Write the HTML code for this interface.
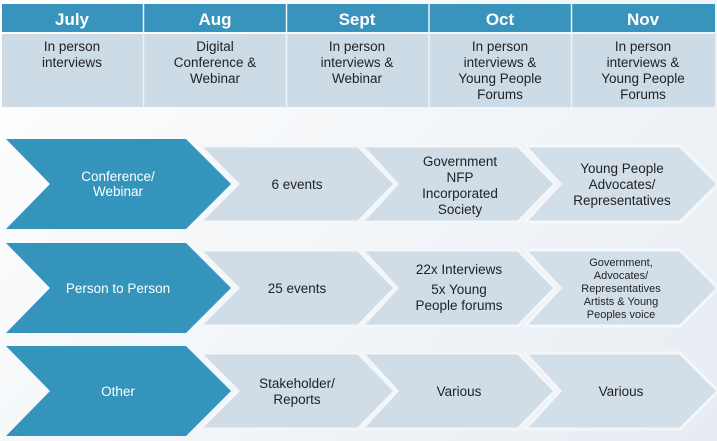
<!DOCTYPE html>
<html><head><style>
body{margin:0;width:717px;height:441px;overflow:hidden;background:linear-gradient(135deg,#ffffff 0%,#f3f6f9 50%,#e6ecf2 100%);font-family:"Liberation Sans",sans-serif;}
svg{position:absolute;left:0;top:0}
</style></head><body>
<svg width="717" height="441" viewBox="0 0 717 441">
<g font-family="Liberation Sans, sans-serif">
<rect x="2" y="4" width="713" height="28" fill="#3894bc"/>
<rect x="2" y="34" width="713" height="73" fill="#cddbe6"/>
<g stroke="#eef3f7" stroke-width="1.5">
<line x1="143.5" y1="4" x2="143.5" y2="107"/><line x1="286.5" y1="4" x2="286.5" y2="107"/>
<line x1="429" y1="4" x2="429" y2="107"/><line x1="571.5" y1="4" x2="571.5" y2="107"/>
</g>
<g fill="#fff" font-size="17" font-weight="bold" text-anchor="middle">
<text x="72" y="25">July</text><text x="215" y="25">Aug</text><text x="357" y="25">Sept</text><text x="500" y="25">Oct</text><text x="643" y="25">Nov</text>
</g>
<g fill="#222" font-size="13.5" text-anchor="middle">
<text x="72" y="51">In person</text><text x="72" y="67">interviews</text>
<text x="215" y="51">Digital</text><text x="215" y="67">Conference &amp;</text><text x="215" y="83">Webinar</text>
<text x="357" y="51">In person</text><text x="357" y="67">interviews &amp;</text><text x="357" y="83">Webinar</text>
<text x="500" y="51">In person</text><text x="500" y="67">interviews &amp;</text><text x="500" y="83">Young People</text><text x="500" y="99">Forums</text>
<text x="643" y="51">In person</text><text x="643" y="67">interviews &amp;</text><text x="643" y="83">Young People</text><text x="643" y="99">Forums</text>
</g>
<g id="r1">
<polygon points="525,146 680,146 718,184 680,222 525,222 560,184" fill="#d3dfe8" stroke="#f4f7fa" stroke-width="3"/>
<polygon points="362,146 518,146 555,184 518,222 362,222 397,184" fill="#d0dde7" stroke="#f4f7fa" stroke-width="3"/>
<polygon points="200,146 358,146 395,184 358,222 200,222 238,184" fill="#d0dde7" stroke="#f4f7fa" stroke-width="3"/>
<polygon points="6,139 186,139 231,184 186,229 6,229 50,184" fill="#3594bb"/>
</g>
<use href="#r1" y="104"/>
<use href="#r1" y="207"/>
<g fill="#fff" font-size="13.5" text-anchor="middle">
<text x="118" y="181">Conference/</text><text x="118" y="196">Webinar</text>
<text x="118" y="293">Person to Person</text>
<text x="118" y="396">Other</text>
</g>
<g fill="#222" font-size="13.5" text-anchor="middle">
<text x="297" y="189">6 events</text>
<text x="460" y="166">Government</text><text x="460" y="182">NFP</text><text x="460" y="198">Incorporated</text><text x="460" y="214">Society</text>
<text x="622" y="173">Young People</text><text x="622" y="189">Advocates/</text><text x="622" y="205">Representatives</text>
<text x="297" y="293">25 events</text>
<text x="459" y="274">22x Interviews</text><text x="459" y="294">5x Young</text><text x="459" y="310">People forums</text>
<text x="459" y="396">Various</text>
<text x="621" y="396">Various</text>
<text x="297" y="388">Stakeholder/</text><text x="297" y="404">Reports</text>
</g>
<g fill="#222" font-size="11" text-anchor="middle">
<text x="621" y="266">Government,</text><text x="621" y="279">Advocates/</text><text x="621" y="292">Representatives</text><text x="621" y="305">Artists &amp; Young</text><text x="621" y="318">Peoples voice</text>
</g>
</g>
</svg>
</body></html>
